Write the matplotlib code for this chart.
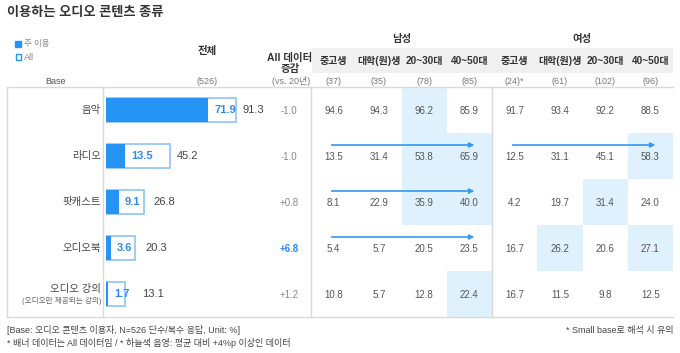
import matplotlib
matplotlib.use("Agg")
import matplotlib.pyplot as plt
from matplotlib.patches import Rectangle

plt.rcParams['font.family'] = ['Liberation Sans', 'Noto Sans CJK KR', 'DejaVu Sans']

# ---- data ----
categories = ['음악', '라디오', '팟캐스트', '오디오북', '오디오 강의']
main_use = [71.9, 13.5, 9.1, 3.6, 1.7]
all_use = [91.3, 45.2, 26.8, 20.3, 13.1]
change = ['-1.0', '-1.0', '+0.8', '+6.8', '+1.2']
change_hi = [False, False, False, True, False]

groups = ['중고생', '대학(원)생', '20~30대', '40~50대'] * 2
bases = ['(37)', '(35)', '(78)', '(85)', '(24)*', '(61)', '(102)', '(96)']
table = [
    [94.6, 94.3, 96.2, 85.9, 91.7, 93.4, 92.2, 88.5],
    [13.5, 31.4, 53.8, 65.9, 12.5, 31.1, 45.1, 58.3],
    [8.1, 22.9, 35.9, 40.0, 4.2, 19.7, 31.4, 24.0],
    [5.4, 5.7, 20.5, 23.5, 16.7, 26.2, 20.6, 27.1],
    [10.8, 5.7, 12.8, 22.4, 16.7, 11.5, 9.8, 12.5],
]
# highlighted cells (row, col)
highlight = [(0, 2), (1, 2), (1, 3), (1, 7), (2, 2), (2, 3), (2, 6),
             (3, 5), (3, 7), (4, 3)]
# arrows: (row, gender block 0=남성 1=여성)
arrows = [(1, 0), (1, 1), (2, 0), (3, 0)]

BLUE = '#2594f4'
EDGE = '#8cc4f7'
LBLUE = '#2a8cf0'
HI = '#dff1fd'
GRID = '#d9d9d9'
TXT = '#555555'

fig = plt.figure(figsize=(6.8, 3.53), dpi=100)
ax = fig.add_axes([0, 0, 1, 1])
ax.set_xlim(0, 680)
ax.set_ylim(353, 0)
ax.axis('off')

top, rh = 87, 46
bottom = top + rh * len(categories)
col_l, col_w = 311, 45.25
col_c = [col_l + col_w * (i + 0.5) for i in range(8)]
row_c = [top + rh * (i + 0.5) for i in range(len(categories))]

# title & legend
ax.text(7, 13, '이용하는 오디오 콘텐츠 종류', fontsize=9.5, fontweight='bold',
        color='#333333', va='center')
ax.add_patch(Rectangle((15, 41), 6, 6, color=BLUE))
ax.text(24, 44, '주 이용', fontsize=6, color='#888888', va='center')
ax.add_patch(Rectangle((15.5, 54), 5.5, 5.5, facecolor='white',
                       edgecolor=BLUE, lw=1.0))
ax.text(24, 57, 'All', fontsize=6.5, color='#888888', va='center')

# headers
ax.text(55, 81, 'Base', fontsize=6.5, color=TXT, ha='center', va='center')
ax.text(207, 51, '전체', fontsize=7.5, fontweight='bold', color='#333333',
        ha='center', va='center')
ax.text(207, 81, '(526)', fontsize=6.5, color='#777777', ha='center', va='center')
ax.text(290, 58, 'All 데이터', fontsize=7.5, fontweight='bold', color='#333333',
        ha='center', va='center')
ax.text(290, 69, '증감', fontsize=7.5, fontweight='bold', color='#333333',
        ha='center', va='center')
ax.text(291, 81, '(vs. 20년)', fontsize=6.5, color='#777777', ha='center',
        va='center')

ax.add_patch(Rectangle((col_l + 1, 48), col_w * 8 - 1, 25, color='#f0f0f0', lw=0))
ax.text((col_c[0] + col_c[3]) / 2, 39, '남성', fontsize=7.5, fontweight='bold',
        color='#333333', ha='center', va='center')
ax.text((col_c[4] + col_c[7]) / 2, 39, '여성', fontsize=7.5, fontweight='bold',
        color='#333333', ha='center', va='center')
for c, g, b in zip(col_c, groups, bases):
    ax.text(c, 61, g, fontsize=7.2, fontweight='bold', color='#333333',
            ha='center', va='center')
    ax.text(c, 82, b, fontsize=6.5, color='#777777', ha='center', va='center')

# highlight cells
for r, c in highlight:
    ax.add_patch(Rectangle((col_l + col_w * c, top + rh * r), col_w, rh,
                           color=HI, lw=0, zorder=0))

# frame
ax.plot([7, 673], [top, top], color=GRID, lw=1)
ax.plot([7, 673], [bottom, bottom], color=GRID, lw=1)
for x in [7, 103, col_l, col_l + col_w * 4]:
    ax.plot([x, x], [top, bottom], color=GRID, lw=1)

# category labels and change column
for i, (cat, ch, hi) in enumerate(zip(categories, change, change_hi)):
    y = row_c[i]
    if cat == '오디오 강의':
        ax.text(101, y - 5, cat, fontsize=7.5, color='#444444', ha='right',
                va='center')
        ax.text(101, y + 7, '(오디오만 제공되는 강의)', fontsize=5.5,
                color='#666666', ha='right', va='center')
    else:
        ax.text(101, y, cat, fontsize=7.5, color='#444444', ha='right',
                va='center')
    ax.text(289, y + 1, ch, fontsize=7, ha='center', va='center',
            color=LBLUE if hi else '#888888',
            fontweight='bold' if hi else 'normal')

# table values
for i, row in enumerate(table):
    for j, v in enumerate(row):
        ax.text(col_c[j], row_c[i] + 1, f'{v:.1f}', fontsize=7, color=TXT,
                ha='center', va='center')

for r, g in arrows:
    x0 = col_c[4 * g] - 2
    x1 = col_c[4 * g + 3] + 5
    y = row_c[r] - 11
    ax.annotate('', xy=(x1, y), xytext=(x0, y),
                arrowprops=dict(arrowstyle='-|>', color='#3399f3', lw=1.2,
                                mutation_scale=7, shrinkA=0, shrinkB=0))

# bars: separate axes in percent units
px = 1.424  # pixels per percent
bx = fig.add_axes([106 / 680, 1 - bottom / 353, 100 * px / 680, (bottom - top) / 353])
bx.set_xlim(0, 100)
bx.set_ylim(len(categories) - 0.5, -0.5)
bx.axis('off')
ys = list(range(len(categories)))
bx.barh(ys, all_use, height=0.52, color='white', edgecolor=EDGE, lw=1.2)
bx.barh(ys, main_use, height=0.52, color=BLUE, lw=0)
for y, m, a in zip(ys, main_use, all_use):
    bx.text(m + 6 / px, y, f'{m:.1f}', fontsize=8, fontweight='bold',
            color=LBLUE, va='center', ha='left')
    bx.text(max(a + 6 / px, m + 34 / px), y, f'{a:.1f}', fontsize=8,
            color='#444444', va='center', ha='left')

# footnotes
ax.text(7, 330, '[Base: 오디오 콘텐츠 이용자, N=526 단수/복수 응답, Unit: %]',
        fontsize=6.5, color='#444444', va='center')
ax.text(7, 343, '* 배너 데이터는 All 데이터임 / * 하늘색 음영: 평균 대비 +4%p 이상인 데이터',
        fontsize=6.5, color='#444444', va='center')
ax.text(673, 331, '* Small base로 해석 시 유의', fontsize=6.5, color='#444444',
        ha='right', va='center')

fig.savefig('out.png', dpi=100)
